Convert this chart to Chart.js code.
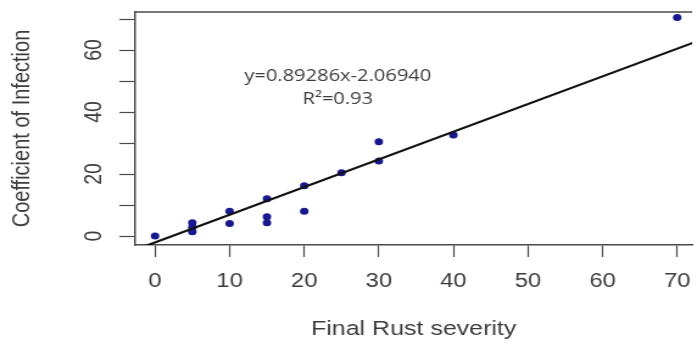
<!DOCTYPE html>
<html>
<head>
<meta charset="utf-8">
<script src="https://cdn.jsdelivr.net/npm/chart.js@4.4.0/dist/chart.umd.min.js"></script>
<style>
  html, body { margin: 0; padding: 0; background: #fff; overflow: hidden; }
  /* the source picture is stretched sideways, so draw narrow and widen */
  #wrap { width: 572px; height: 344px; transform: scaleX(1.2185); transform-origin: 0 0; }
</style>
</head>
<body>
<div id="wrap"><canvas id="chart"></canvas></div>
<script>
// final rust severity vs coefficient of infection
const severity  = [0, 5, 5, 5, 10, 10, 15, 15, 15, 20, 20, 25, 30, 30, 40, 70];
const infection = [0, 4.3, 2.8, 1.4, 8, 4, 12, 6.2, 4.3, 16.2, 8, 20.4, 30.4, 24.2, 32.6, 70.5];

// fitted line from the equation in the plot
const slope = 0.89286;
const intercept = -2.06940;
const fitX = [-5, 80];

const xTicks = [0, 10, 20, 30, 40, 50, 60, 70];
const yTicks = [0, 10, 20, 30, 40, 50, 60, 70];
const yLabels = [0, 20, 40, 60];

const eqText = ['y=0.89286x-2.06940', 'R\u00b2=0.93'];

const textColor = '#3c3c3c';
const axisColor = '#4a4a4a';

const points = severity.map((x, i) => ({x: x, y: infection[i]}));
const fitLine = fitX.map(x => ({x: x, y: slope * x + intercept}));

const boxAndText = {
    id: 'boxAndText',
    afterDraw(chart) {
        const ctx = chart.ctx;
        const area = chart.chartArea;
        const xs = chart.scales.x, ys = chart.scales.y;
        ctx.save();
        // top edge of the box
        ctx.strokeStyle = axisColor;
        ctx.lineWidth = 1.5;
        ctx.beginPath();
        ctx.moveTo(area.left, area.top);
        ctx.lineTo(area.right, area.top);
        ctx.stroke();
        // equation
        ctx.fillStyle = textColor;
        ctx.font = '16.5px "Open Sans"';
        ctx.textAlign = 'center';
        ctx.textBaseline = 'middle';
        const cx = xs.getPixelForValue(24.5);
        ctx.fillText(eqText[0], cx, ys.getPixelForValue(51.6));
        ctx.fillText(eqText[1], cx, ys.getPixelForValue(44.0));
        ctx.restore();
    }
};

new Chart(document.getElementById('chart'), {
    type: 'scatter',
    data: {
        datasets: [{
            type: 'line',
            data: fitLine,
            borderColor: '#111',
            borderWidth: 2.2,
            pointRadius: 0,
            fill: false
        }, {
            data: points,
            backgroundColor: '#18188f',
            borderColor: '#18188f',
            pointRadius: 3.5,
            borderWidth: 0
        }]
    },
    options: {
        responsive: true,
        maintainAspectRatio: false,
        animation: false,
        layout: { padding: { top: 12, right: 0, left: 0, bottom: 0 } },
        plugins: { legend: { display: false }, tooltip: { enabled: false } },
        scales: {
            x: {
                type: 'linear',
                min: -2.65,
                max: 72.0,
                afterBuildTicks: s => { s.ticks = xTicks.map(v => ({value: v})); },
                afterFit: s => { s.height = 99; s.paddingLeft = 0; s.paddingRight = 0; },
                grid: { drawOnChartArea: false, tickLength: 12, tickColor: axisColor, tickWidth: 1.2 },
                border: { color: axisColor, width: 1.5 },
                ticks: {
                    autoSkip: false, maxRotation: 0, padding: 13,
                    color: textColor,
                    font: { family: '"Liberation Sans", Arial', size: 19.5 }
                },
                title: {
                    display: true, text: 'Final Rust severity', color: textColor,
                    font: { family: '"Liberation Sans", Arial', size: 20.5 },
                    padding: { top: 0, bottom: 2 }
                }
            },
            y: {
                type: 'linear',
                min: -2.9,
                max: 72.26,
                afterBuildTicks: s => { s.ticks = yTicks.map(v => ({value: v})); },
                afterFit: s => { s.width = 111; s.paddingTop = 0; s.paddingBottom = 0; },
                grid: { drawOnChartArea: false, tickLength: 13, tickColor: axisColor, tickWidth: 1.2 },
                border: { color: axisColor, width: 1.5 },
                ticks: {
                    autoSkip: false, minRotation: 90, maxRotation: 90,
                    crossAlign: 'center', padding: 10,
                    color: textColor,
                    font: { family: '"Liberation Sans", Arial', size: 19.5 },
                    callback: v => yLabels.includes(v) ? String(v) : ''
                },
                title: {
                    display: true, text: 'Coefficient of Infection', color: textColor,
                    font: { family: '"Liberation Sans", Arial', size: 20 },
                    padding: { top: 6, bottom: 0 }
                }
            }
        }
    },
    plugins: [boxAndText]
});
</script>
</body>
</html>
